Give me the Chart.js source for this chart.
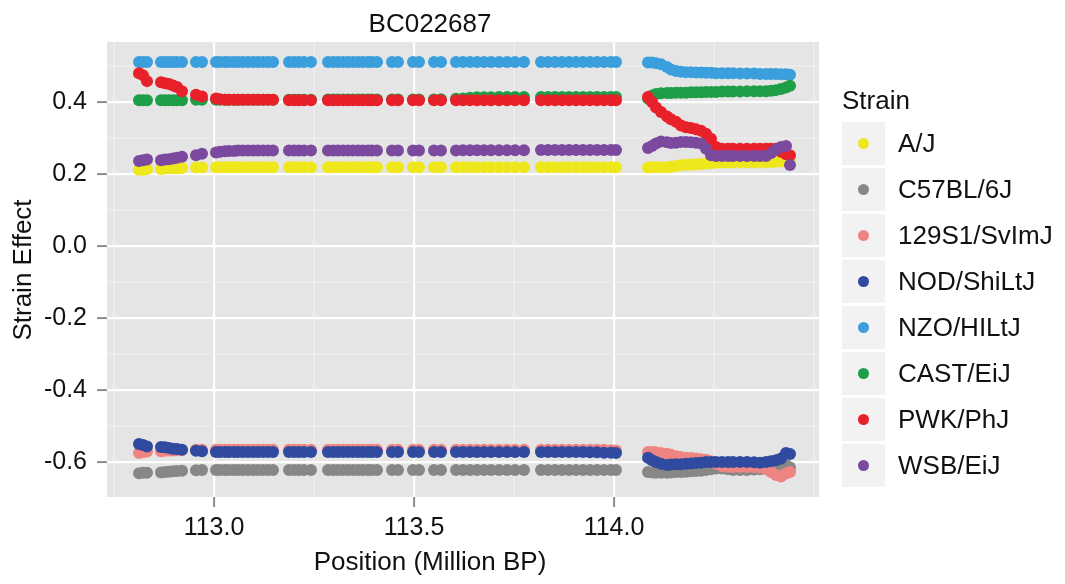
<!DOCTYPE html>
<html>
<head>
<meta charset="utf-8">
<script src="https://cdn.jsdelivr.net/npm/chart.js@4.4.0/dist/chart.umd.min.js"></script>
<style>
  html, body { margin:0; padding:0; background:#fff; }
  #wrap { position:relative; width:1065px; height:584px; font-family:"Liberation Sans", Arial, sans-serif; color:#111; }
  canvas { position:absolute; left:0; top:0; }
  .txt { position:absolute; font-size:26px; line-height:26px; white-space:nowrap; }
  #title { left:0; width:860px; top:10px; text-align:center; }
  #xtitle { left:0; width:860px; top:548px; text-align:center; }
  #ytitle { left:-128px; width:300px; top:257px; text-align:center; transform:rotate(-90deg); transform-origin:150px 13px; }
  #legend { position:absolute; left:842px; top:0; }
  #legTitle { left:0; top:87px; }
  .key { position:absolute; left:0; width:43px; height:43px; background:#F2F2F2; }
  .key span { position:absolute; left:16px; top:16px; width:11px; height:11px; border-radius:50%; }
  .lab { position:absolute; left:56px; font-size:26px; line-height:26px; white-space:nowrap; }
</style>
</head>
<body>
<div id="wrap">
  <canvas id="c" width="1065" height="584"></canvas>
  <div id="title" class="txt">BC022687</div>
  <div id="xtitle" class="txt">Position (Million BP)</div>
  <div id="ytitle" class="txt">Strain Effect</div>
  <div id="legend"><div id="legTitle" class="txt">Strain</div></div>
</div>
<script>
// ---------- DATA ----------
const strains = ["A/J","C57BL/6J","129S1/SvImJ","NOD/ShiLtJ","NZO/HILtJ","CAST/EiJ","PWK/PhJ","WSB/EiJ"];
const colors  = ["#EEE71C","#878787","#EF8583","#2F4A9E","#3A9FDC","#1F9E48","#E8202A","#7B4A9F"];

const xTicks = [113.0, 113.5, 114.0];
const xTickLabels = ["113.0","113.5","114.0"];
const xMinor = [112.75, 113.25, 113.75, 114.25, 114.5];
const yTicks = [-0.6, -0.4, -0.2, 0.0, 0.2, 0.4];
const yTickLabels = ["-0.6","-0.4","-0.2","0.0","0.2","0.4"];
const yMinor = [-0.7, -0.5, -0.3, -0.1, 0.1, 0.3, 0.5];

// SNP positions (Million BP)
const positions = [
  112.8125,112.8225,112.8325,
  112.8675,112.8775,112.8875,112.8975,112.9075,112.92,
  112.955,112.97,
  113.005,113.015,113.0275,113.0375,113.05,113.06,113.0725,113.085,113.0975,113.11,113.1225,113.135,113.1475,
  113.1875,113.2,113.2125,113.225,113.2425,
  113.285,113.2975,113.31,113.3225,113.335,113.3475,113.36,113.3725,113.385,113.395,113.4075,
  113.445,113.46,
  113.4975,113.5125,
  113.55,113.5675,
  113.605,113.6225,113.64,113.6575,113.675,113.6925,113.7125,113.7325,113.7525,113.775,
  113.8175,113.835,113.8525,113.87,113.8875,113.905,113.9225,113.94,113.9575,113.975,113.9925,114.005,
  114.085,114.095,114.105,114.1175,114.1325,114.1425,114.155,114.1675,114.18,114.1925,114.205,114.2175,114.23,114.2425,
  114.255,114.27,114.285,114.2975,114.315,114.3325,114.35,114.365,114.38,114.3925,114.405,114.4175,114.43,114.44
];

const effAJ = [
  0.212,0.212,0.213,
  0.214,0.215,0.216,0.216,0.216,0.217,
  0.218,0.218,
  0.219,0.219,0.219,0.219,0.219,0.219,0.219,0.219,0.219,0.219,0.219,0.219,0.219,
  0.219,0.219,0.219,0.219,0.219,
  0.219,0.219,0.219,0.219,0.219,0.219,0.219,0.219,0.219,0.219,0.219,
  0.219,0.219,
  0.219,0.219,
  0.219,0.219,
  0.219,0.219,0.219,0.219,0.219,0.219,0.219,0.219,0.219,0.219,
  0.219,0.219,0.219,0.219,0.219,0.219,0.219,0.219,0.219,0.219,0.219,0.219,
  0.218,0.219,0.219,0.219,0.219,0.220,0.222,0.224,0.226,0.226,0.227,0.228,0.229,0.230,
  0.231,0.232,0.232,0.232,0.232,0.232,0.232,0.233,0.233,0.233,0.234,0.235,0.236,0.240
];
const effB6 = [
  -0.631,-0.630,-0.630,
  -0.629,-0.628,-0.627,-0.626,-0.625,-0.624,
  -0.623,-0.622,
  -0.622,-0.622,-0.622,-0.622,-0.622,-0.622,-0.622,-0.622,-0.622,-0.622,-0.622,-0.622,-0.622,
  -0.622,-0.622,-0.622,-0.622,-0.622,
  -0.622,-0.622,-0.622,-0.622,-0.622,-0.622,-0.622,-0.622,-0.622,-0.622,-0.622,
  -0.622,-0.622,
  -0.622,-0.622,
  -0.622,-0.622,
  -0.622,-0.622,-0.622,-0.622,-0.622,-0.622,-0.622,-0.622,-0.622,-0.622,
  -0.622,-0.622,-0.622,-0.622,-0.622,-0.622,-0.622,-0.622,-0.622,-0.622,-0.622,-0.622,
  -0.628,-0.629,-0.630,-0.630,-0.630,-0.629,-0.628,-0.628,-0.627,-0.626,-0.625,-0.624,-0.622,-0.620,
  -0.618,-0.618,-0.620,-0.622,-0.622,-0.622,-0.621,-0.620,-0.618,-0.616,-0.613,-0.610,-0.608,-0.615
];
const eff129 = [
  -0.575,-0.573,-0.571,
  -0.570,-0.569,-0.568,-0.568,-0.567,-0.567,
  -0.566,-0.566,
  -0.566,-0.566,-0.566,-0.566,-0.566,-0.566,-0.566,-0.566,-0.566,-0.566,-0.566,-0.566,-0.566,
  -0.566,-0.566,-0.566,-0.566,-0.566,
  -0.566,-0.566,-0.566,-0.566,-0.566,-0.566,-0.566,-0.566,-0.566,-0.566,-0.566,
  -0.566,-0.566,
  -0.566,-0.566,
  -0.566,-0.566,
  -0.566,-0.566,-0.566,-0.566,-0.566,-0.566,-0.566,-0.566,-0.566,-0.566,
  -0.566,-0.566,-0.566,-0.566,-0.566,-0.566,-0.566,-0.566,-0.566,-0.566,-0.567,-0.568,
  -0.572,-0.572,-0.573,-0.575,-0.577,-0.580,-0.584,-0.586,-0.588,-0.589,-0.590,-0.592,-0.594,-0.598,
  -0.605,-0.612,-0.613,-0.614,-0.614,-0.614,-0.614,-0.615,-0.620,-0.628,-0.636,-0.640,-0.632,-0.628
];
const effNOD = [
  -0.550,-0.553,-0.557,
  -0.558,-0.559,-0.561,-0.563,-0.564,-0.566,
  -0.569,-0.570,
  -0.572,-0.572,-0.572,-0.572,-0.572,-0.572,-0.572,-0.572,-0.572,-0.572,-0.572,-0.572,-0.572,
  -0.572,-0.572,-0.572,-0.572,-0.572,
  -0.572,-0.572,-0.572,-0.572,-0.572,-0.572,-0.572,-0.572,-0.572,-0.572,-0.572,
  -0.572,-0.572,
  -0.572,-0.572,
  -0.572,-0.572,
  -0.572,-0.572,-0.572,-0.572,-0.572,-0.572,-0.572,-0.572,-0.572,-0.572,
  -0.572,-0.572,-0.572,-0.572,-0.572,-0.572,-0.572,-0.573,-0.573,-0.574,-0.574,-0.575,
  -0.588,-0.595,-0.600,-0.605,-0.608,-0.607,-0.606,-0.606,-0.605,-0.604,-0.603,-0.602,-0.600,-0.600,
  -0.600,-0.600,-0.600,-0.600,-0.600,-0.600,-0.601,-0.602,-0.600,-0.598,-0.595,-0.590,-0.575,-0.578
];
const effNZO = [
  0.511,0.511,0.511,
  0.511,0.511,0.511,0.511,0.511,0.511,
  0.511,0.511,
  0.511,0.511,0.511,0.511,0.511,0.511,0.511,0.511,0.511,0.511,0.511,0.511,0.511,
  0.511,0.511,0.511,0.511,0.511,
  0.511,0.511,0.511,0.511,0.511,0.511,0.511,0.511,0.511,0.511,0.511,
  0.511,0.511,
  0.511,0.511,
  0.511,0.511,
  0.511,0.511,0.511,0.511,0.511,0.511,0.511,0.511,0.511,0.511,
  0.511,0.511,0.511,0.511,0.511,0.511,0.511,0.511,0.511,0.511,0.511,0.511,
  0.510,0.510,0.508,0.505,0.497,0.490,0.486,0.484,0.483,0.483,0.482,0.482,0.481,0.481,
  0.480,0.480,0.480,0.480,0.479,0.479,0.479,0.478,0.478,0.478,0.478,0.477,0.477,0.476
];
const effCAST = [
  0.405,0.405,0.405,
  0.405,0.405,0.405,0.405,0.405,0.405,
  0.406,0.406,
  0.406,0.406,0.406,0.406,0.406,0.406,0.406,0.406,0.406,0.406,0.406,0.406,0.406,
  0.406,0.406,0.406,0.406,0.406,
  0.407,0.407,0.407,0.407,0.407,0.407,0.407,0.407,0.407,0.407,0.407,
  0.407,0.407,
  0.407,0.407,
  0.407,0.408,
  0.409,0.410,0.412,0.413,0.413,0.413,0.414,0.414,0.414,0.414,
  0.414,0.414,0.414,0.414,0.414,0.414,0.414,0.414,0.414,0.414,0.414,0.414,
  0.410,0.418,0.422,0.424,0.425,0.425,0.426,0.426,0.426,0.427,0.427,0.427,0.428,0.428,
  0.428,0.429,0.429,0.429,0.429,0.430,0.430,0.430,0.430,0.431,0.433,0.436,0.440,0.445
];
const effPWK = [
  0.480,0.474,0.458,
  0.455,0.452,0.450,0.446,0.442,0.430,
  0.420,0.415,
  0.410,0.408,0.406,0.406,0.406,0.406,0.406,0.406,0.406,0.406,0.406,0.406,0.406,
  0.405,0.405,0.405,0.405,0.405,
  0.405,0.405,0.405,0.405,0.405,0.405,0.405,0.405,0.405,0.405,0.405,
  0.405,0.405,
  0.405,0.405,
  0.405,0.405,
  0.405,0.405,0.405,0.405,0.405,0.405,0.405,0.405,0.405,0.405,
  0.405,0.405,0.405,0.405,0.405,0.405,0.405,0.405,0.405,0.405,0.405,0.405,
  0.414,0.400,0.385,0.372,0.360,0.352,0.345,0.335,0.330,0.328,0.324,0.320,0.312,0.298,
  0.275,0.270,0.270,0.270,0.270,0.270,0.270,0.270,0.270,0.270,0.270,0.262,0.255,0.252
];
const effWSB = [
  0.236,0.238,0.240,
  0.238,0.240,0.241,0.243,0.245,0.248,
  0.252,0.256,
  0.260,0.262,0.263,0.264,0.264,0.265,0.265,0.265,0.265,0.265,0.265,0.265,0.265,
  0.265,0.265,0.265,0.265,0.265,
  0.265,0.265,0.265,0.265,0.265,0.265,0.265,0.265,0.265,0.265,0.265,
  0.265,0.265,
  0.265,0.265,
  0.265,0.265,
  0.265,0.266,0.266,0.266,0.266,0.266,0.266,0.266,0.266,0.266,
  0.267,0.267,0.267,0.267,0.267,0.267,0.267,0.267,0.267,0.267,0.267,0.267,
  0.272,0.278,0.285,0.290,0.288,0.286,0.287,0.289,0.289,0.288,0.287,0.285,0.270,0.252,
  0.250,0.250,0.250,0.250,0.250,0.250,0.250,0.250,0.250,0.258,0.268,0.275,0.278,0.225
];
const effects = [effAJ, effB6, eff129, effNOD, effNZO, effCAST, effPWK, effWSB];

// ---------- CHART ----------
const PANEL = { left:107, right:819, top:42, bottom:497 };

const datasets = strains.map((name, i) => ({
  label: name,
  data: positions.map((p, k) => ({ x: p, y: effects[i][k] })),
  backgroundColor: colors[i],
  borderWidth: 0,
  pointRadius: 6,
  pointHoverRadius: 6,
  order: strains.length - 1 - i
}));

const panelPlugin = {
  id: 'panel',
  beforeDraw(chart) {
    const { ctx, chartArea: a } = chart;
    ctx.save();
    ctx.fillStyle = '#E5E5E5';
    ctx.fillRect(a.left, a.top, a.right - a.left, a.bottom - a.top);
    ctx.restore();
  },
  beforeDatasetsDraw(chart) {
    const { ctx, chartArea: a, scales } = chart;
    ctx.save();
    ctx.strokeStyle = '#F2F2F2';
    ctx.lineWidth = 1.1;
    xMinor.forEach(v => {
      const px = scales.x.getPixelForValue(v);
      if (px < a.left || px > a.right) return;
      ctx.beginPath(); ctx.moveTo(px, a.top); ctx.lineTo(px, a.bottom); ctx.stroke();
    });
    yMinor.forEach(v => {
      const py = scales.y.getPixelForValue(v);
      if (py < a.top || py > a.bottom) return;
      ctx.beginPath(); ctx.moveTo(a.left, py); ctx.lineTo(a.right, py); ctx.stroke();
    });
    ctx.restore();
  }
};

const tickFont = { family: '"Liberation Sans", Arial, sans-serif', size: 25 };

new Chart(document.getElementById('c'), {
  type: 'scatter',
  data: { datasets },
  options: {
    responsive: false,
    animation: false,
    devicePixelRatio: 1,
    layout: { padding: { left: 0, right: 1065 - PANEL.right, top: PANEL.top, bottom: 0 } },
    plugins: { legend: { display: false }, tooltip: { enabled: false }, title: { display: false } },
    scales: {
      x: {
        type: 'linear',
        min: 112.7325, max: 114.5125,
        afterFit(s) { s.height = 584 - PANEL.bottom; },
        afterBuildTicks(s) { s.ticks = xTicks.map(v => ({ value: v })); },
        ticks: {
          callback: (v, i) => xTickLabels[i],
          autoSkip: false, maxRotation: 0, minRotation: 0,
          color: '#111', font: tickFont, padding: 6
        },
        grid: { color: '#FFFFFF', lineWidth: 2.2, drawTicks: true, tickLength: 10, tickColor: '#8A8A8A', tickWidth: 2 },
        border: { display: false }
      },
      y: {
        type: 'linear',
        min: -0.6972, max: 0.5667,
        afterFit(s) { s.width = PANEL.left; },
        afterBuildTicks(s) { s.ticks = yTicks.map(v => ({ value: v })); },
        ticks: {
          callback: (v, i) => yTickLabels[i],
          autoSkip: false,
          color: '#111', font: tickFont, padding: 10
        },
        grid: { color: '#FFFFFF', lineWidth: 2.2, drawTicks: true, tickLength: 10, tickColor: '#8A8A8A', tickWidth: 2 },
        border: { display: false }
      }
    }
  },
  plugins: [panelPlugin]
});

// ---------- LEGEND (HTML) ----------
const legend = document.getElementById('legend');
strains.forEach((name, i) => {
  const top = 122 + 46 * i;
  const key = document.createElement('div');
  key.className = 'key';
  key.style.top = top + 'px';
  const dot = document.createElement('span');
  dot.style.background = colors[i];
  key.appendChild(dot);
  legend.appendChild(key);
  const lab = document.createElement('div');
  lab.className = 'lab';
  lab.style.top = (top + 8) + 'px';
  lab.textContent = name;
  legend.appendChild(lab);
});
</script>
</body>
</html>
